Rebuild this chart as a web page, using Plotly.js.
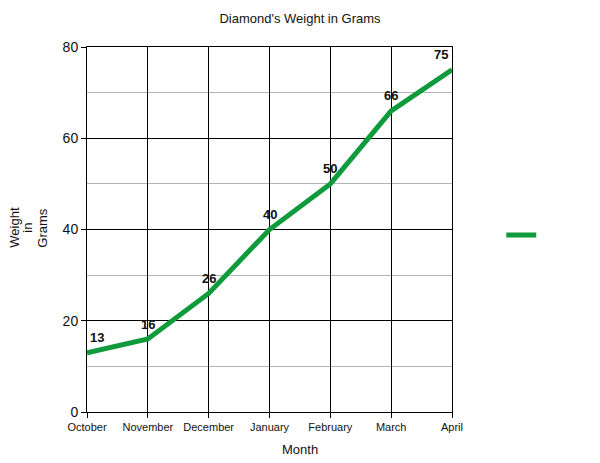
<!DOCTYPE html>
<html>
<head>
<meta charset="utf-8">
<script src="https://cdn.plot.ly/plotly-3.0.1.min.js"></script>
<style>
  body { margin: 0; background: #fff; }
  #chart { width: 600px; height: 463px; }
</style>
</head>
<body>
<div id="chart"></div>
<script>
// chart data
const months = ["October", "November", "December", "January", "February", "March", "April"];
const weights = [13, 16, 26, 40, 50, 66, 75];
const yTicks = [0, 20, 40, 60, 80];
const yTitleLines = ["Weight", "in", "Grams"];

const lineColor = "#0f9a3b";
const fontFam = "Liberation Sans, Arial, sans-serif";

var data = [{
  x: months,
  y: weights,
  type: "scatter",
  mode: "lines",
  name: " ",
  line: { color: lineColor, width: 5 },
  hoverinfo: "x+y"
}];

// value labels above the points; first one nudged right, last one left
var labelAnn = months.map(function (m, i) {
  var shift = 0;
  if (i === 0) shift = 10;
  if (i === months.length - 1) shift = -11;
  return {
    x: m,
    y: weights[i],
    text: "<b>" + weights[i] + "</b>",
    showarrow: false,
    xanchor: "center",
    yanchor: "middle",
    xshift: shift,
    yshift: 15,
    font: { family: fontFam, size: 13, color: "#111" }
  };
});

// y title: three rotated columns like the original
var yTitleX = [15, 28, 43];
var yTitleAnn = yTitleLines.map(function (t, i) {
  return {
    text: t,
    xref: "paper",
    yref: "paper",
    x: (yTitleX[i] - 87) / 365,
    y: 0.505,
    xanchor: "center",
    yanchor: "middle",
    textangle: -90,
    showarrow: false,
    font: { family: fontFam, size: 13, color: "#111" }
  };
});

var layout = {
  width: 600,
  height: 463,
  margin: { l: 87, r: 148, t: 47, b: 51 },
  paper_bgcolor: "#ffffff",
  plot_bgcolor: "#ffffff",
  font: { family: fontFam, color: "#111" },
  title: {
    text: "Diamond's Weight in Grams",
    font: { size: 13, color: "#111" },
    x: 0.5,
    xref: "container",
    y: 0.961,
    yref: "container",
    yanchor: "middle"
  },
  xaxis: {
    type: "category",
    range: [0, months.length - 1],
    showgrid: true,
    gridcolor: "#000",
    gridwidth: 1,
    showline: true,
    mirror: true,
    linecolor: "#000",
    linewidth: 1,
    ticks: "outside",
    ticklen: 5,
    tickcolor: "#000",
    tickfont: { size: 11, color: "#111" },
    zeroline: false,
    fixedrange: true
  },
  yaxis: {
    range: [0, 80],
    tickvals: yTicks,
    showgrid: true,
    gridcolor: "#000",
    gridwidth: 1,
    minor: { dtick: 10, showgrid: true, gridcolor: "#b4b4b4", gridwidth: 1, ticks: "" },
    showline: true,
    mirror: true,
    linecolor: "#000",
    linewidth: 1,
    ticks: "outside",
    ticklen: 5,
    tickcolor: "#000",
    tickfont: { size: 14, color: "#111" },
    zeroline: false,
    fixedrange: true
  },
  showlegend: true,
  legend: {
    x: 1.135,
    xanchor: "left",
    y: 0.485,
    yanchor: "middle",
    itemwidth: 30,
    font: { size: 12 },
    bgcolor: "rgba(0,0,0,0)"
  },
  annotations: labelAnn.concat(yTitleAnn, [{
    text: "Month",
    xref: "paper",
    yref: "paper",
    x: (300 - 87) / 365,
    y: -0.102,
    xanchor: "center",
    yanchor: "middle",
    showarrow: false,
    font: { family: fontFam, size: 13, color: "#111" }
  }])
};

Plotly.newPlot("chart", data, layout, { displayModeBar: false, staticPlot: true });
</script>
</body>
</html>
